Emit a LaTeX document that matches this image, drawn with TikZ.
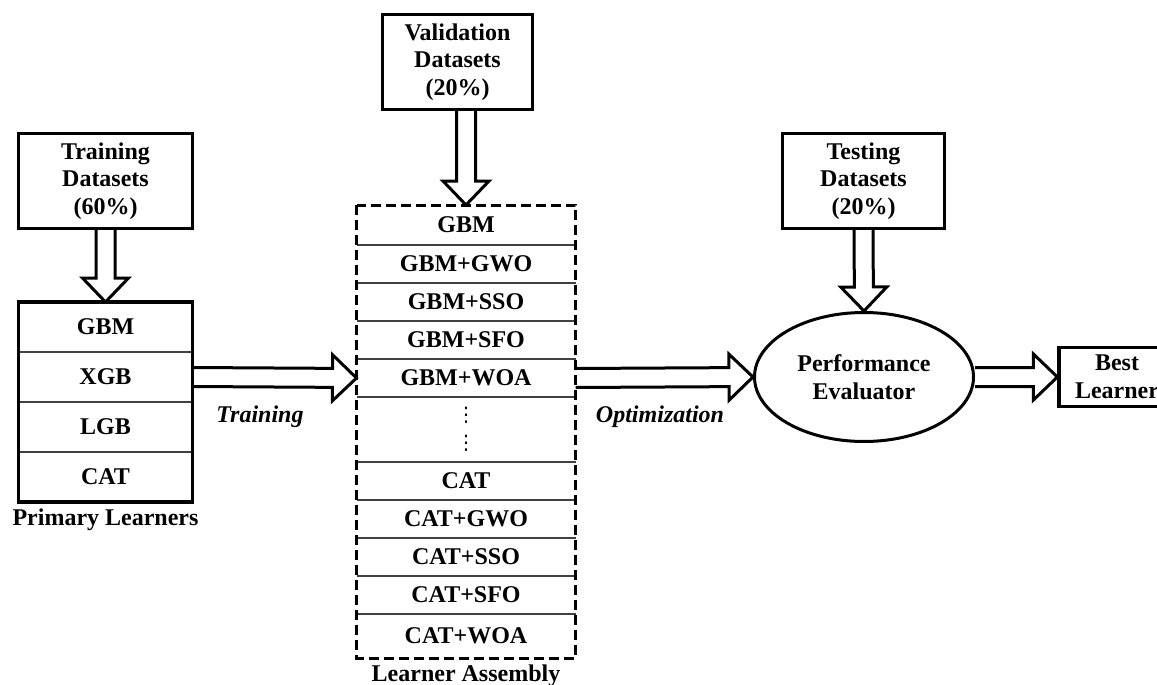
\documentclass[tikz,border=0pt]{standalone}
\usepackage{fontspec}
\setmainfont{Liberation Serif}
\newfontfamily\dotsfont{DejaVu Sans}
\usetikzlibrary{calc, positioning, shapes.geometric}

\tikzset{
	databox/.style = {draw, line width = 1.6pt, align = center, minimum height = 47.5pt, inner sep = 2pt, font = \fontsize{12pt}{13.8pt}\selectfont\bfseries},
	learnerrow/.style = {align = center, minimum height = 19pt, inner sep = 0pt, outer sep = 0pt, font = \fontsize{12pt}{13.8pt}\selectfont\bfseries},
	rowline/.style = {line width = 0.6pt, black!75},
	assemblyborder/.style = {line width = 1.5pt, dash pattern = on 5pt off 2.5pt},
	tag/.style = {font = \fontsize{12pt}{13.8pt}\selectfont\bfseries\itshape},
	caption/.style = {font = \fontsize{12pt}{13.8pt}\selectfont\bfseries},
	blockline/.style = {line width = 1.5pt, line join = miter},
}

% hollow block arrow from #1 to #2
\newcommand{\blockarrow}[2]{%
	\path (#2) coordinate (tip) ($(#2)!12pt!(#1)$) coordinate (headbase);
	\draw [blockline] ($(#1)!4.75pt!90:(tip)$) -- ($(headbase)!4.75pt!90:(tip)$) -- ($(headbase)!11.5pt!90:(tip)$) -- (tip) -- ($(headbase)!11.5pt!-90:(tip)$) -- ($(headbase)!4.75pt!-90:(tip)$) -- ($(#1)!4.75pt!-90:(tip)$);
}

\begin{document}
\begin{tikzpicture}[x = 0.5pt, y = -0.5pt]
		\def\primw{87pt}
		\def\asmw{109.5pt}
		
		\useasboundingbox (0,0) rectangle (1157,685);
		
		% data splits
		\node [databox, minimum width = 87pt] (train) at (105.5,181) {Training\\Datasets\\(60\%)};
		\node [databox, minimum width = 75pt] (valid) at (457.5,62) {Validation\\Datasets\\(20\%)};
		\node [databox, minimum width = 81pt] (test) at (863.5,181) {Testing\\Datasets\\(20\%)};
		
		% primary learners
		\node [learnerrow, minimum width = \primw, minimum height = 25pt] (pgbm) at (105.5,327) {GBM};
		\node [learnerrow, minimum width = \primw, minimum height = 25pt, below = 0pt of pgbm] (pxgb) {XGB};
		\node [learnerrow, minimum width = \primw, minimum height = 25pt, below = 0pt of pxgb] (plgb) {LGB};
		\node [learnerrow, minimum width = \primw, minimum height = 25pt, below = 0pt of plgb] (pcat) {CAT};
		\foreach \r in {pgbm, pxgb, plgb}
			\draw [rowline] (\r.south west) -- (\r.south east);
		\draw [line width = 1.6pt] (pgbm.north west) rectangle (pcat.south east);
		\node [caption, below = 0pt of pcat] (primlbl) {Primary Learners};
		
		% learner assembly
		\node [learnerrow, minimum width = \asmw, minimum height = 20pt] (agbm) at (466,225) {GBM};
		\node [learnerrow, minimum width = \asmw, below = 0pt of agbm] (agwo) {GBM+GWO};
		\node [learnerrow, minimum width = \asmw, below = 0pt of agwo] (asso) {GBM+SSO};
		\node [learnerrow, minimum width = \asmw, below = 0pt of asso] (asfo) {GBM+SFO};
		\node [learnerrow, minimum width = \asmw, below = 0pt of asfo] (awoa) {GBM+WOA};
		\node [learnerrow, minimum width = \asmw, minimum height = 32.5pt, below = 0pt of awoa, font = \dotsfont\fontsize{10pt}{14pt}\selectfont] (adots) {⋮\\⋮};
		\node [learnerrow, minimum width = \asmw, below = 0pt of adots] (acat) {CAT};
		\node [learnerrow, minimum width = \asmw, below = 0pt of acat] (acgwo) {CAT+GWO};
		\node [learnerrow, minimum width = \asmw, below = 0pt of acgwo] (acsso) {CAT+SSO};
		\node [learnerrow, minimum width = \asmw, below = 0pt of acsso] (acsfo) {CAT+SFO};
		\node [learnerrow, minimum width = \asmw, minimum height = 22pt, below = 0pt of acsfo] (acwoa) {CAT+WOA};
		\foreach \r in {agbm, agwo, asso, asfo, awoa, adots, acat, acgwo, acsso, acsfo}
			\draw [rowline] (\r.south west) -- (\r.south east);
		\draw [assemblyborder] (agbm.north west) rectangle (acwoa.south east);
		\node [caption, below = 0pt of acwoa] (asmlbl) {Learner Assembly};
		
		% evaluation
		\node [draw, ellipse, line width = 1.5pt, minimum width = 109.5pt, minimum height = 64.5pt, inner sep = 0pt, align = center, font = \fontsize{12pt}{13.8pt}\selectfont\bfseries] (perf) at (864,377) {Performance\\Evaluator};
		\node [databox, minimum width = 58pt, minimum height = 29.5pt] (best) at (1117,377) {Best\\Learner};
		
		\node [tag] (traintag) at (260,417) {Training};
		\node [tag] (opttag) at (660,417) {Optimization};
		
		% block arrows
		\coordinate (validout) at (valid.south -| agbm.north);
		\blockarrow{train.south}{pgbm.north}
		\blockarrow{validout}{agbm.north}
		\blockarrow{pxgb.east}{awoa.west}
		\blockarrow{awoa.east}{perf.west}
		\blockarrow{test.south}{perf.north}
		\blockarrow{perf.east}{best.west}
	\end{tikzpicture}
\end{document}
